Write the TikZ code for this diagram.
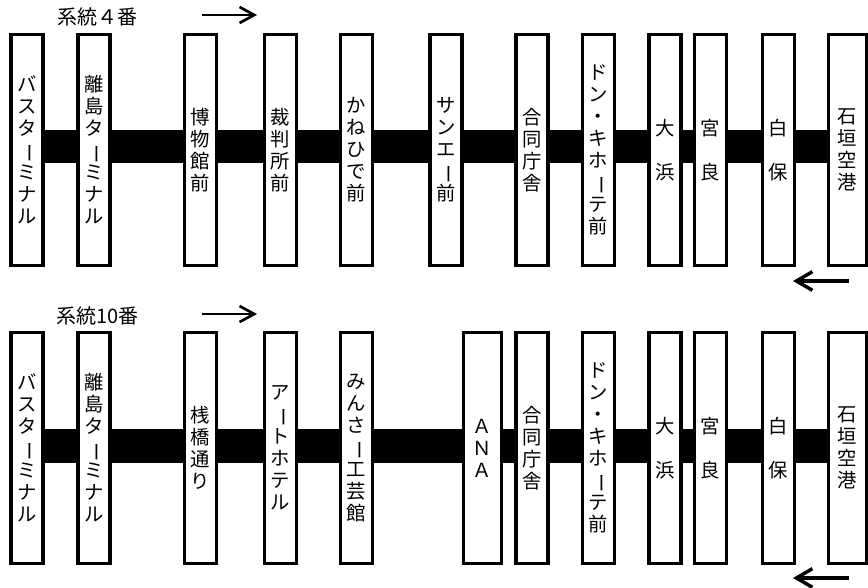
\documentclass[tikz,border=0pt]{standalone}
\usepackage{fontspec}
\setmainfont{Noto Sans CJK JP}
\usepackage{graphicx}
\usetikzlibrary{arrows.meta,backgrounds}
\newcommand{\nobi}{\rotatebox[origin=c]{-90}{ー}}

\begin{document}
\begin{tikzpicture}[x=0.75pt,y=-0.75pt,
	stop/.style={rectangle, draw, fill=white, line width=2.4pt, minimum width=24pt, minimum height=173pt, inner sep=0pt, align=center, font=\fontsize{14.5}{16.5}\selectfont},
	widestop/.style={stop, minimum width=28.5pt},
	route/.style={font=\fontsize{15}{16.5}\selectfont},
	bar/.style={line width=25pt},
	dirarrow/.style={line width=2pt, -{Straight Barb[length=11pt,width=12pt]}},
	backarrow/.style={line width=2.6pt, -{Straight Barb[length=12pt,width=14pt]}}]
	\useasboundingbox (0,0) rectangle (868,588);

	% route 4
	\node[route] (lab4) at (97.5,17) {系統４番};
	\coordinate (r4s) at (202,15);
	\coordinate (r4e) at (257,15);
	\coordinate (l4s) at (849,281);
	\coordinate (l4e) at (793,281);
	\node[stop] (a1) at (27,150) {バ\\ス\\タ\\\nobi\\ミ\\ナ\\ル};
	\node[stop] (a2) at (94,150) {離\\島\\タ\\\nobi\\ミ\\ナ\\ル};
	\node[stop] (a3) at (200.5,150) {博\\物\\館\\前};
	\node[stop] (a4) at (280.5,150) {裁\\判\\所\\前};
	\node[stop] (a5) at (356.5,150) {か\\ね\\ひ\\で\\前};
	\node[stop] (a6) at (446,150) {サ\\ン\\エ\\\nobi\\前};
	\node[stop] (a7) at (532,150) {合\\同\\庁\\舎};
	\node[stop] (a8) at (598.5,150) {ド\\ン\\・\\キ\\ホ\\\nobi\\テ\\前};
	\node[stop] (a9) at (665,150) {大\\[16.5pt]浜};
	\node[stop] (a10) at (710.5,150) {宮\\[16.5pt]良};
	\node[stop] (a11) at (778.5,150) {白\\[16.5pt]保};
	\node[widestop] (a12) at (847.5,150) {石\\垣\\空\\港};
	\begin{scope}[on background layer]
		\draw[bar] ([yshift=2.6pt]a1.center) -- ([yshift=2.6pt]a12.center);
	\end{scope}
	\draw[dirarrow] (r4s) -- (r4e);
	\draw[backarrow] (l4s) -- (l4e);

	% route 10
	\node[route] (lab10) at (97.5,316) {系統10番};
	\coordinate (r10s) at (202,314);
	\coordinate (r10e) at (257,314);
	\coordinate (l10s) at (849,578);
	\coordinate (l10e) at (793,578);
	\node[stop] (b1) at (27,448) {バ\\ス\\タ\\\nobi\\ミ\\ナ\\ル};
	\node[stop] (b2) at (94,448) {離\\島\\タ\\\nobi\\ミ\\ナ\\ル};
	\node[stop] (b3) at (200.5,448) {桟\\橋\\通\\り};
	\node[stop] (b4) at (280.5,448) {ア\\\nobi\\ト\\ホ\\テ\\ル};
	\node[stop] (b5) at (356.5,448) {み\\ん\\さ\\\nobi\\工\\芸\\館};
	\node[widestop] (b6) at (482.5,448) {Ａ\\Ｎ\\Ａ};
	\node[stop] (b7) at (532,448) {合\\同\\庁\\舎};
	\node[stop] (b8) at (598.5,448) {ド\\ン\\・\\キ\\ホ\\\nobi\\テ\\前};
	\node[stop] (b9) at (665,448) {大\\[16.5pt]浜};
	\node[stop] (b10) at (710.5,448) {宮\\[16.5pt]良};
	\node[stop] (b11) at (778.5,448) {白\\[16.5pt]保};
	\node[widestop] (b12) at (847.5,448) {石\\垣\\空\\港};
	\begin{scope}[on background layer]
		\draw[bar] ([yshift=1.5pt]b1.center) -- ([yshift=1.5pt]b12.center);
	\end{scope}
	\draw[dirarrow] (r10s) -- (r10e);
	\draw[backarrow] (l10s) -- (l10e);
\end{tikzpicture}
\end{document}
